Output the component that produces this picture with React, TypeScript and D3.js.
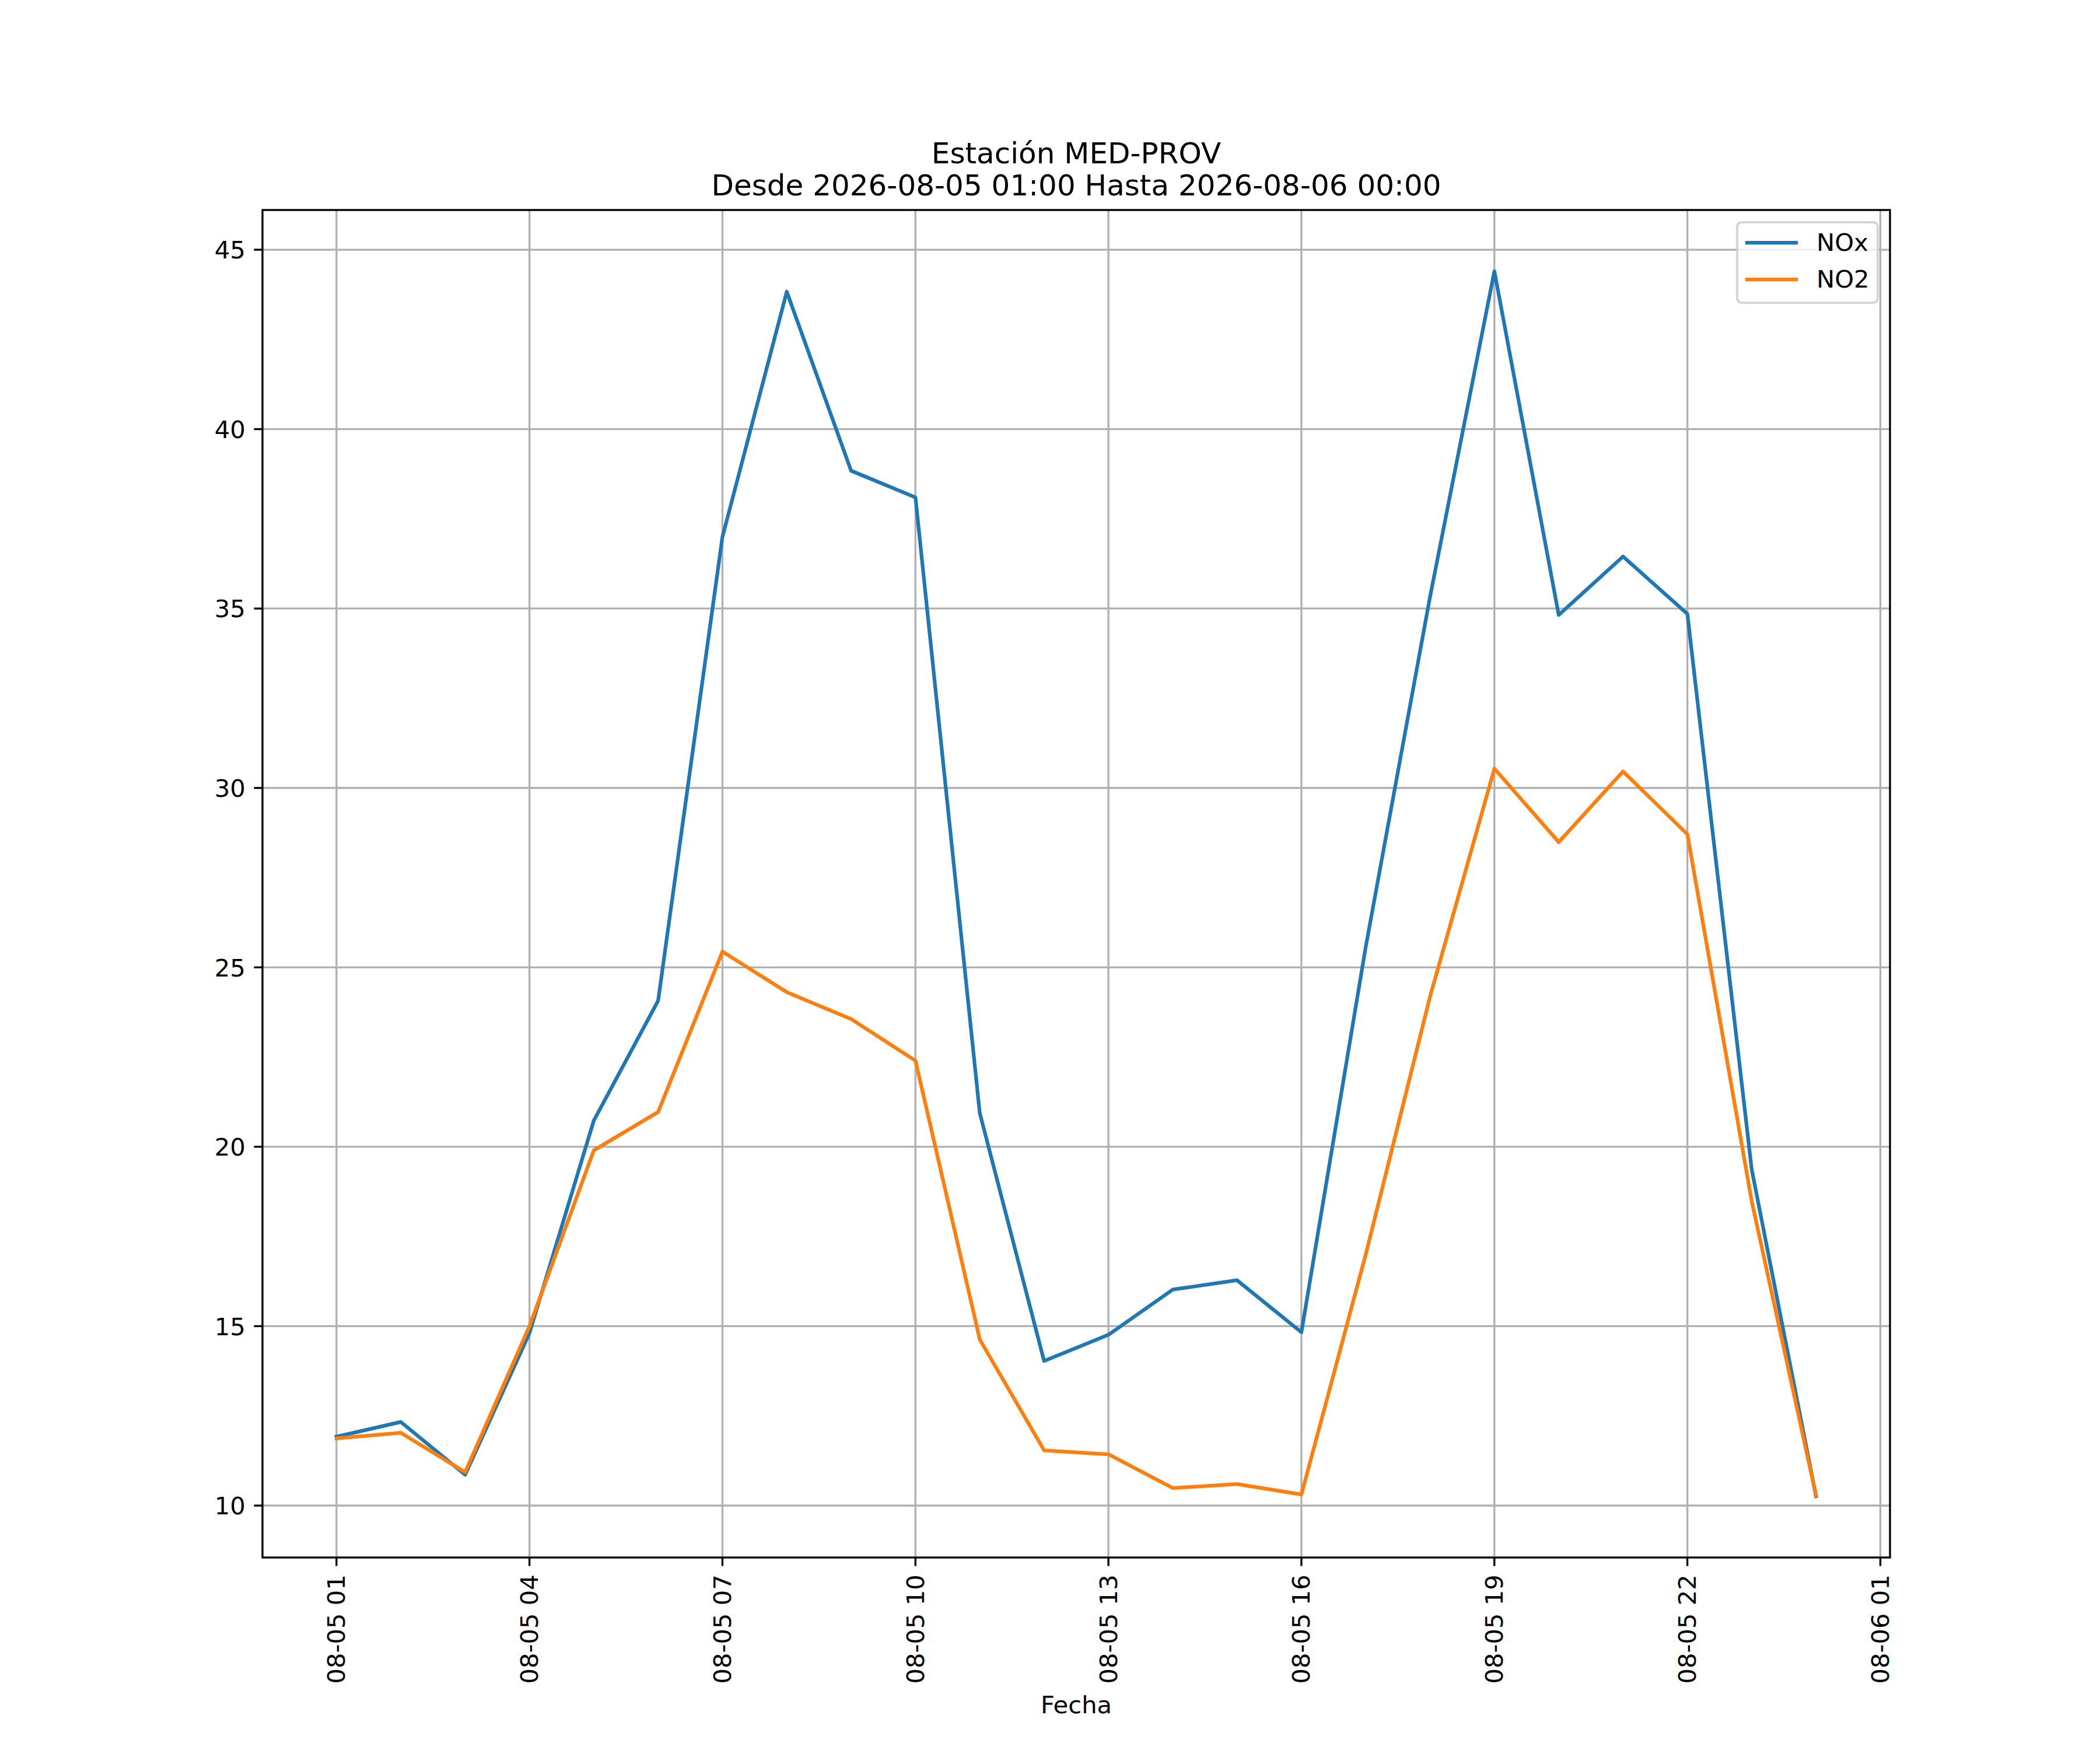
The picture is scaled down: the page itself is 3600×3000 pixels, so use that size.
import React from "react";
import * as d3 from "d3";

const hours = [
  "2026-08-05T01:00Z", "2026-08-05T02:00Z", "2026-08-05T03:00Z", "2026-08-05T04:00Z",
  "2026-08-05T05:00Z", "2026-08-05T06:00Z", "2026-08-05T07:00Z", "2026-08-05T08:00Z",
  "2026-08-05T09:00Z", "2026-08-05T10:00Z", "2026-08-05T11:00Z", "2026-08-05T12:00Z",
  "2026-08-05T13:00Z", "2026-08-05T14:00Z", "2026-08-05T15:00Z", "2026-08-05T16:00Z",
  "2026-08-05T17:00Z", "2026-08-05T18:00Z", "2026-08-05T19:00Z", "2026-08-05T20:00Z",
  "2026-08-05T21:00Z", "2026-08-05T22:00Z", "2026-08-05T23:00Z", "2026-08-06T00:00Z",
];

const noxValues = [
  11.92, 12.33, 10.86, 14.81, 20.73, 24.07, 37.0, 43.83, 38.84, 38.1, 20.94, 14.03,
  14.76, 16.02, 16.28, 14.83, 25.57, 35.33, 44.4, 34.82, 36.45, 34.85, 19.37, 10.26,
];

const no2Values = [
  11.87, 12.03, 10.93, 15.0, 19.9, 20.97, 25.44, 24.31, 23.56, 22.4, 14.63, 11.54,
  11.43, 10.49, 10.6, 10.31, 17.0, 24.19, 30.54, 28.49, 30.46, 28.71, 18.48, 10.28,
];

const xTickDates = [
  "2026-08-05T01:00Z", "2026-08-05T04:00Z", "2026-08-05T07:00Z", "2026-08-05T10:00Z",
  "2026-08-05T13:00Z", "2026-08-05T16:00Z", "2026-08-05T19:00Z", "2026-08-05T22:00Z",
  "2026-08-06T01:00Z",
];
const xTickLabels = [
  "08-05 01", "08-05 04", "08-05 07", "08-05 10", "08-05 13", "08-05 16",
  "08-05 19", "08-05 22", "08-06 01",
];
const yTicks = [10, 15, 20, 25, 30, 35, 40, 45];

const seriesNames = ["NOx", "NO2"];
const seriesColors = ["#1f77b4", "#ff7f0e"];
const titleLines = ["Estación MED-PROV", "Desde 2026-08-05 01:00 Hasta 2026-08-06 00:00"];
const xLabel = "Fecha";

const W = 3600;
const H = 3000;
const left = 450;
const right = 3240;
const top = 360;
const bottom = 2670;
const FONT = "'DejaVu Sans', sans-serif";
const fs = 41.67;
const lw = 3.33;

export default function App() {
  const dates = hours.map((h) => new Date(h));
  const [t0, t1] = d3.extent(dates) as [Date, Date];
  const span = +t1 - +t0;
  const x = d3
    .scaleUtc()
    .domain([new Date(+t0 - span * 0.05), new Date(+t1 + span * 0.05)])
    .range([left, right]);
  const all = noxValues.concat(no2Values);
  const [ymin, ymax] = d3.extent(all) as [number, number];
  const yr = ymax - ymin;
  const y = d3
    .scaleLinear()
    .domain([ymin - yr * 0.05, ymax + yr * 0.05])
    .range([bottom, top]);

  const series = [noxValues, no2Values];
  const line = d3
    .line<number>()
    .x((_, i) => x(dates[i]))
    .y((v) => y(v));

  const xt = xTickDates.map((d) => new Date(d));

  return (
    <svg
      width={W}
      height={H}
      style={{ position: "absolute", left: 0, top: 0, background: "#fff" }}
      fontFamily={FONT}
    >
      <rect x={0} y={0} width={W} height={H} fill="#fff" />
      <defs>
        <clipPath id="plotclip">
          <rect x={left} y={top} width={right - left} height={bottom - top} />
        </clipPath>
      </defs>
      {/* grid */}
      <g stroke="#b0b0b0" strokeWidth={lw}>
        {xt.map((d, i) => {
          const px = x(d);
          if (px < left || px > right) return null;
          return <line key={"gx" + i} x1={px} x2={px} y1={top} y2={bottom} />;
        })}
        {yTicks.map((v) => (
          <line key={"gy" + v} x1={left} x2={right} y1={y(v)} y2={y(v)} />
        ))}
      </g>
      {/* lines */}
      <g clipPath="url(#plotclip)">
        {series.map((s, k) => (
          <path
            key={k}
            d={line(s) || ""}
            fill="none"
            stroke={seriesColors[k]}
            strokeWidth={6.25}
            strokeLinejoin="round"
            strokeLinecap="square"
          />
        ))}
      </g>
      {/* spines */}
      <rect
        x={left}
        y={top}
        width={right - left}
        height={bottom - top}
        fill="none"
        stroke="#000"
        strokeWidth={lw}
      />
      {/* x ticks */}
      <g>
        {xt.map((d, i) => {
          const px = x(d);
          return (
            <g key={"xt" + i}>
              <line x1={px} x2={px} y1={bottom} y2={bottom + 14.6} stroke="#000" strokeWidth={lw} />
              <text
                transform={`translate(${px},${bottom + 29.2}) rotate(-90)`}
                textAnchor="end"
                dominantBaseline="central"
                fontSize={fs}
                fill="#000"
              >
                {xTickLabels[i]}
              </text>
            </g>
          );
        })}
      </g>
      {/* y ticks */}
      <g>
        {yTicks.map((v) => (
          <g key={"yt" + v}>
            <line x1={left - 14.6} x2={left} y1={y(v)} y2={y(v)} stroke="#000" strokeWidth={lw} />
            <text
              x={left - 29.2}
              y={y(v)}
              dy="0.365em"
              textAnchor="end"
              fontSize={fs}
              fill="#000"
            >
              {v}
            </text>
          </g>
        ))}
      </g>
      {/* title */}
      <text x={(left + right) / 2} y={280} textAnchor="middle" fontSize={50} fill="#000">
        {titleLines[0]}
      </text>
      <text x={(left + right) / 2} y={335} textAnchor="middle" fontSize={50} fill="#000">
        {titleLines[1]}
      </text>
      {/* x label */}
      <text x={(left + right) / 2} y={2937} textAnchor="middle" fontSize={fs} fill="#000">
        {xLabel}
      </text>
      {/* legend */}
      <g>
        <rect
          x={2978}
          y={381}
          width={241}
          height={138}
          rx={8}
          ry={8}
          fill="#fff"
          fillOpacity={0.8}
          stroke="#cccccc"
          strokeOpacity={0.8}
          strokeWidth={4.17}
        />
        {seriesNames.map((n, k) => (
          <g key={n}>
            <line
              x1={2995}
              x2={3079}
              y1={416 + k * 63}
              y2={416 + k * 63}
              stroke={seriesColors[k]}
              strokeWidth={6.25}
              strokeLinecap="square"
            />
            <text x={3114} y={430 + k * 63} fontSize={fs} fill="#000">
              {n}
            </text>
          </g>
        ))}
      </g>
    </svg>
  );
}
